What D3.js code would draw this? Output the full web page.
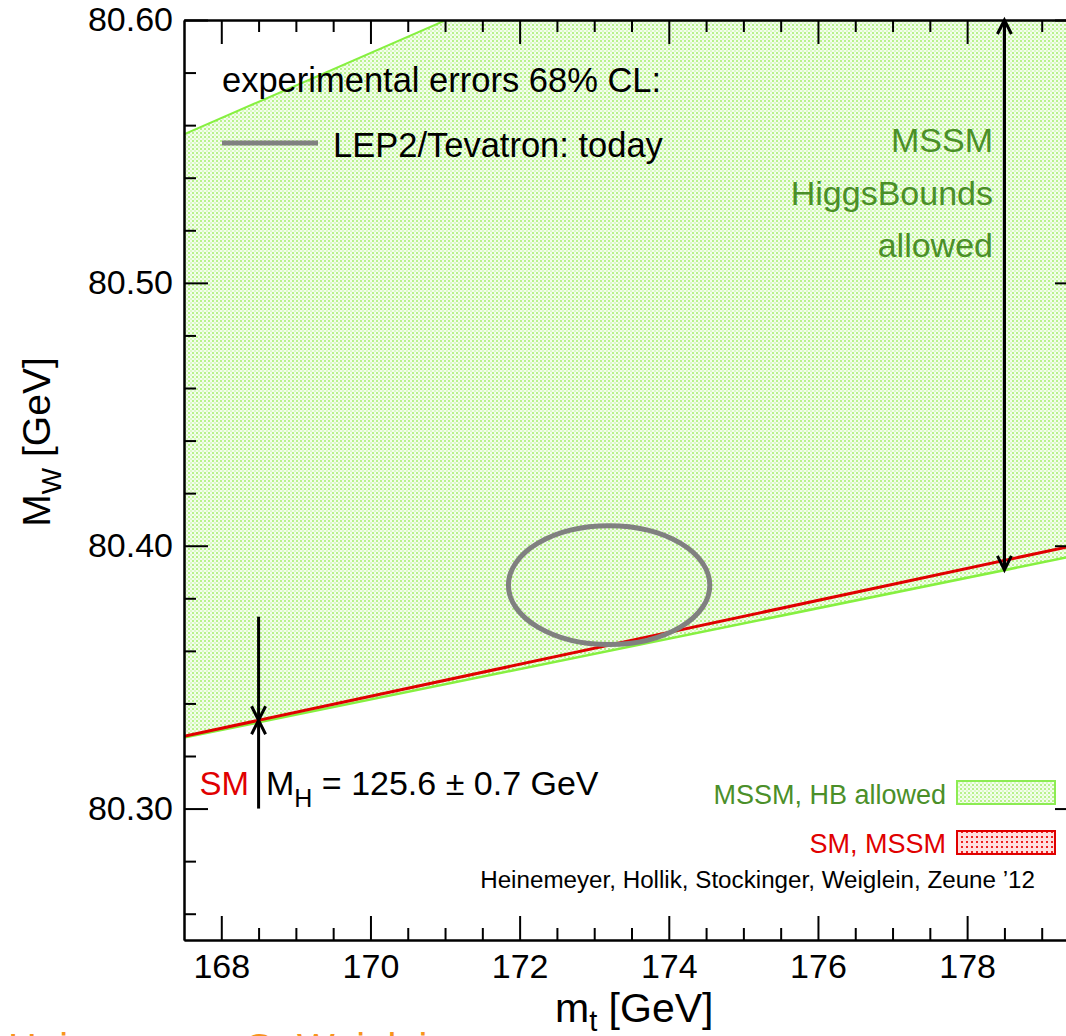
<!DOCTYPE html>
<html>
<head>
<meta charset="utf-8">
<script src="https://cdn.jsdelivr.net/npm/d3@7"></script>
<style>
  body { margin: 0; background: #fff; }
  svg { display: block; font-family: "Liberation Sans", Arial, Helvetica, sans-serif; }
</style>
</head>
<body>
<div id="chart"></div>
<script>
// axis ranges (m_t in GeV, M_W in GeV)
const xDomain = [167.5, 179.5];
const yDomain = [80.25, 80.60];
const xTicks = [168, 170, 172, 174, 176, 178];
const yTicks = [80.30, 80.40, 80.50, 80.60];

// MSSM HiggsBounds-allowed band edges
const mssmUpper = [[167.5, 80.5565], [179.5, 80.705]];
const mssmLower = [[167.5, 80.327], [179.5, 80.3965]];
// SM prediction, M_H = 125.6 +- 0.7 GeV (narrow band)
const smLine = [[167.5, 80.3275], [179.5, 80.4005]];
// experimental 68% CL ellipse: centre and half-widths
const ellipseCentre = [173.2, 80.385];
const ellipseHalf = [1.35, 0.0226];
// arrows: [m_t, M_W from, M_W to]
const smArrowDown = [168.5, 80.373, 80.3336];
const smArrowUp = [168.5, 80.30, 80.3336];
const mssmArrow = [178.5, 80.3908, 80.60];

const W = 1066, H = 1036;
const plot = { left: 184, top: 20, right: 1079, bottom: 940 };

const green = "#4b8f29";
const red = "#e00000";

const svg = d3.select("#chart").append("svg")
  .attr("width", W).attr("height", H);

const defs = svg.append("defs");
const pg = defs.append("pattern").attr("id", "pGreen")
  .attr("patternUnits", "userSpaceOnUse").attr("width", 4).attr("height", 4);
pg.append("rect").attr("width", 4).attr("height", 4).attr("fill", "#f4fdee");
pg.append("rect").attr("width", 2).attr("height", 2).attr("fill", "#b8f28c");
pg.append("rect").attr("x", 2).attr("y", 2).attr("width", 2).attr("height", 2).attr("fill", "#dcf9c8");

const pr = defs.append("pattern").attr("id", "pRed")
  .attr("patternUnits", "userSpaceOnUse").attr("width", 5).attr("height", 5);
pr.append("rect").attr("width", 5).attr("height", 5).attr("fill", "#ffe0e0");
pr.append("rect").attr("x", 1).attr("y", 1).attr("width", 2).attr("height", 2).attr("fill", "#ee2020");

defs.append("clipPath").attr("id", "clipPlot")
  .append("rect")
  .attr("x", plot.left).attr("y", plot.top)
  .attr("width", plot.right - plot.left).attr("height", plot.bottom - plot.top);

const x = d3.scaleLinear().domain(xDomain).range([plot.left, plot.right]);
const y = d3.scaleLinear().domain(yDomain).range([plot.bottom, plot.top]);

const line = d3.line().x(d => x(d[0])).y(d => y(d[1]));

const gPlot = svg.append("g").attr("clip-path", "url(#clipPlot)");

// MSSM band
const bandPts = mssmUpper.concat(mssmLower.slice().reverse());
gPlot.append("path")
  .attr("d", line(bandPts) + "Z")
  .attr("fill", "url(#pGreen)");
gPlot.append("path").attr("d", line(mssmUpper))
  .attr("fill", "none").attr("stroke", "#86f040").attr("stroke-width", 2);
gPlot.append("path").attr("d", line(mssmLower))
  .attr("fill", "none").attr("stroke", "#86f040").attr("stroke-width", 2.5);

// SM line
gPlot.append("path").attr("d", line(smLine))
  .attr("fill", "none").attr("stroke", red).attr("stroke-width", 3);

// experimental ellipse
gPlot.append("ellipse")
  .attr("cx", x(ellipseCentre[0])).attr("cy", y(ellipseCentre[1]))
  .attr("rx", x(ellipseCentre[0] + ellipseHalf[0]) - x(ellipseCentre[0]))
  .attr("ry", y(ellipseCentre[1] - ellipseHalf[1]) - y(ellipseCentre[1]))
  .attr("fill", "none").attr("stroke", "#808080").attr("stroke-width", 5);

// axes
function styleAxis(g) {
  g.selectAll("path.domain").attr("stroke", "#000").attr("stroke-width", 2);
  g.selectAll(".tick line").attr("stroke", "#000").attr("stroke-width", 2);
  g.selectAll("text").attr("fill", "#000").style("font-size", "34px")
    .style("font-family", "'Liberation Sans', Arial, sans-serif");
}
const xMinor = d3.range(168, 179.6, 0.5).filter(v => !xTicks.includes(v));
const yMinor = d3.range(80.26, 80.601, 0.02).map(v => +v.toFixed(2)).filter(v => !yTicks.includes(v));

svg.append("g").attr("transform", `translate(0,${plot.bottom})`)
  .call(d3.axisBottom(x).tickValues(xTicks).tickSizeInner(-24).tickSizeOuter(0).tickPadding(14).tickFormat(d3.format("d")))
  .call(styleAxis);
svg.append("g").attr("transform", `translate(0,${plot.bottom})`)
  .call(d3.axisBottom(x).tickValues(xMinor).tickSizeInner(-12).tickSizeOuter(0).tickFormat(""))
  .call(styleAxis);
svg.append("g").attr("transform", `translate(0,${plot.top})`)
  .call(d3.axisTop(x).tickValues(xTicks).tickSizeInner(-24).tickSizeOuter(0).tickFormat(""))
  .call(styleAxis);
svg.append("g").attr("transform", `translate(0,${plot.top})`)
  .call(d3.axisTop(x).tickValues(xMinor).tickSizeInner(-12).tickSizeOuter(0).tickFormat(""))
  .call(styleAxis);

svg.append("g").attr("transform", `translate(${plot.left},0)`)
  .call(d3.axisLeft(y).tickValues(yTicks).tickSizeInner(-24).tickSizeOuter(0).tickPadding(10).tickFormat(d3.format(".2f")))
  .call(styleAxis)
  .call(g => g.selectAll(".tick text").attr("x", -11));
svg.append("g").attr("transform", `translate(${plot.left},0)`)
  .call(d3.axisLeft(y).tickValues(yMinor).tickSizeInner(-12).tickSizeOuter(0).tickFormat(""))
  .call(styleAxis);
svg.append("g").attr("transform", `translate(${plot.right},0)`)
  .call(d3.axisRight(y).tickValues(yTicks).tickSizeInner(-24).tickSizeOuter(0).tickFormat(""))
  .call(styleAxis);
svg.append("g").attr("transform", `translate(${plot.right},0)`)
  .call(d3.axisRight(y).tickValues(yMinor).tickSizeInner(-12).tickSizeOuter(0).tickFormat(""))
  .call(styleAxis);

// arrows
function arrow(mt, from, to) {
  const x0 = x(mt), y0 = y(from), y1 = y(to);
  const dir = y1 > y0 ? 1 : -1;
  svg.append("line").attr("x1", x0).attr("x2", x0).attr("y1", y0).attr("y2", y1 - dir * 1)
    .attr("stroke", "#000").attr("stroke-width", 3);
  svg.append("path")
    .attr("d", `M${x0 - 7},${y1 - dir * 14}L${x0},${y1}L${x0 + 7},${y1 - dir * 14}`)
    .attr("fill", "none").attr("stroke", "#000").attr("stroke-width", 3);
}
arrow(...smArrowDown);
arrow(...smArrowUp);
// double-headed MSSM arrow
arrow(mssmArrow[0], mssmArrow[1], mssmArrow[2]);
arrow(mssmArrow[0], mssmArrow[2], mssmArrow[1]);

// legend top-left
svg.append("text").attr("x", 222).attr("y", 92)
  .style("font-size", "34.5px").text("experimental errors 68% CL:");
svg.append("line").attr("x1", 222).attr("x2", 318).attr("y1", 143).attr("y2", 143)
  .attr("stroke", "#808080").attr("stroke-width", 5);
svg.append("text").attr("x", 333).attr("y", 157)
  .style("font-size", "34.5px").text("LEP2/Tevatron: today");

// MSSM label
["MSSM", "HiggsBounds", "allowed"].forEach((t, i) => {
  svg.append("text").attr("x", 993).attr("y", 152 + i * 52.5)
    .attr("text-anchor", "end").attr("fill", green)
    .style("font-size", "34px").text(t);
});

// SM / M_H label
svg.append("text").attr("x", 249).attr("y", 795).attr("text-anchor", "end")
  .attr("fill", red).style("font-size", "33px").text("SM");
const mh = svg.append("text").attr("x", 266).attr("y", 795).style("font-size", "34px");
mh.append("tspan").text("M");
mh.append("tspan").attr("dy", 12).style("font-size", "25px").text("H");
mh.append("tspan").attr("dy", -12).text(" = 125.6 \u00b1 0.7 GeV");

// legend bottom-right
svg.append("text").attr("x", 946).attr("y", 804).attr("text-anchor", "end")
  .attr("fill", green).style("font-size", "27px").text("MSSM, HB allowed");
svg.append("rect").attr("x", 957).attr("y", 781).attr("width", 98).attr("height", 23)
  .attr("fill", "url(#pGreen)").attr("stroke", "#8cec52").attr("stroke-width", 2);
svg.append("text").attr("x", 946).attr("y", 853).attr("text-anchor", "end")
  .attr("fill", red).style("font-size", "27px").text("SM, MSSM");
svg.append("rect").attr("x", 957).attr("y", 831).attr("width", 98).attr("height", 23)
  .attr("fill", "url(#pRed)").attr("stroke", red).attr("stroke-width", 2);
svg.append("text").attr("x", 1035).attr("y", 888).attr("text-anchor", "end")
  .style("font-size", "24.2px").text("Heinemeyer, Hollik, Stockinger, Weiglein, Zeune \u201912");

// axis titles
const xt = svg.append("text").attr("x", 555).attr("y", 1022).style("font-size", "41px");
xt.append("tspan").text("m");
xt.append("tspan").attr("dy", 9).style("font-size", "29px").text("t");
xt.append("tspan").attr("dy", -9).text(" [GeV]");

const yt = svg.append("text").attr("transform", "translate(50,442) rotate(-90)")
  .attr("text-anchor", "middle").style("font-size", "39px");
yt.append("tspan").text("M");
yt.append("tspan").attr("dy", 11).style("font-size", "28px").text("W");
yt.append("tspan").attr("dy", -11).text(" [GeV]");

// cut-off author line at the page bottom
svg.append("text").attr("x", 8).attr("y", 1062).attr("fill", "#f7941d")
  .style("font-size", "40px").text("Heinemeyer, G. Weiglein");
</script>
</body>
</html>
